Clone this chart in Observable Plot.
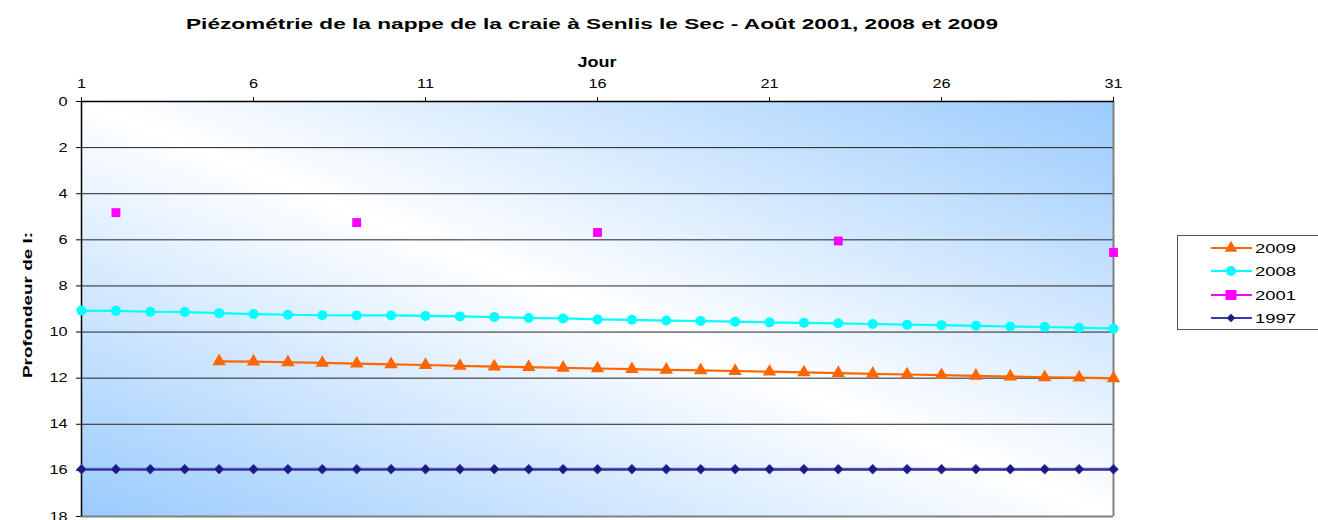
<!DOCTYPE html>
<html>
<head>
<meta charset="utf-8">
<script src="https://cdn.jsdelivr.net/npm/d3@7"></script>
<script src="https://cdn.jsdelivr.net/npm/@observablehq/plot@0.6"></script>
<style>
  html, body { margin: 0; padding: 0; background: #fff; }
  svg { font-family: "Liberation Sans", Arial, sans-serif; }
</style>
</head>
<body>
<div id="chart"></div>
<script>
const title = "Piézométrie de la nappe de la craie à Senlis le Sec - Août 2001, 2008 et 2009";
const xLabel = "Jour";
const yLabel = "Profondeur de l:";
const xTicks = [1, 6, 11, 16, 21, 26, 31];
const yTicks = [0, 2, 4, 6, 8, 10, 12, 14, 16, 18];

const days = d3.range(1, 32);
const days2009 = d3.range(5, 32);
const values2009 = [11.27, 11.28, 11.31, 11.34, 11.37, 11.40, 11.43, 11.47, 11.50, 11.52, 11.55, 11.58, 11.61, 11.64, 11.66, 11.69, 11.72, 11.75, 11.78, 11.81, 11.84, 11.87, 11.90, 11.93, 11.96, 11.98, 12.01];
const values2008 = [9.07, 9.08, 9.12, 9.13, 9.18, 9.22, 9.25, 9.27, 9.28, 9.28, 9.30, 9.32, 9.35, 9.39, 9.41, 9.45, 9.47, 9.50, 9.52, 9.55, 9.58, 9.60, 9.62, 9.65, 9.68, 9.70, 9.73, 9.76, 9.78, 9.81, 9.85];
const days2001 = [2, 9, 16, 23, 31];
const values2001 = [4.82, 5.25, 5.68, 6.05, 6.55];
const values1997 = days.map(() => 15.95);

const series = ["2009", "2008", "2001", "1997"];
const colors = {"2009": "#FF6600", "2008": "#00FFFF", "2001": "#FF00FF", "1997": "#1a1a80"};

const d2009 = days2009.map((d, i) => ({day: d, v: values2009[i]}));
const d2008 = days.map((d, i) => ({day: d, v: values2008[i]}));
const d2001 = days2001.map((d, i) => ({day: d, v: values2001[i]}));
const d1997 = days.map((d, i) => ({day: d, v: values1997[i]}));

const W = 1318, H = 520;
const plot = Plot.plot({
  width: W,
  height: H,
  marginLeft: 81,
  marginRight: 205,
  marginTop: 101,
  marginBottom: 4,
  style: {fontFamily: "Liberation Sans, Arial, sans-serif", fontSize: "12.5px", background: "transparent", overflow: "visible"},
  x: {domain: [1, 31]},
  y: {domain: [0, 18], reverse: true},
  marks: [
    Plot.frame({fill: "url(#bgGrad)", stroke: null}),
    Plot.gridY(yTicks.slice(1, -1), {stroke: "#222", strokeOpacity: 1, strokeWidth: 1}),
    Plot.ruleX([31], {stroke: "#808080", strokeWidth: 2}),
    Plot.ruleY([18], {stroke: "#808080", strokeWidth: 2}),
    Plot.ruleY([0], {stroke: "#000", strokeWidth: 1.5}),
    Plot.ruleX([1], {stroke: "#000", strokeWidth: 1.5}),
    Plot.axisX(xTicks, {anchor: "top", tickSize: 5, tickPadding: 9, label: null, fontSize: 12.5, stroke: "#000", className: "stretch"}),
    Plot.axisY(yTicks, {anchor: "left", tickSize: 5, tickPadding: 9, label: null, fontSize: 12.5, stroke: "#000", className: "stretch"}),
    Plot.line(d1997, {x: "day", y: "v", stroke: "#6a6ac8", strokeWidth: 3.2}),
    Plot.line(d1997, {x: "day", y: "v", stroke: "#1F1F8F", strokeWidth: 1.2}),
    Plot.dot(d1997, {x: "day", y: "v", symbol: "diamond2", r: 4.4, fill: "#1a1a80", stroke: "#4040a8", strokeWidth: 0.8}),
    Plot.line(d2008, {x: "day", y: "v", stroke: "#00FFFF", strokeWidth: 2.2}),
    Plot.dot(d2008, {x: "day", y: "v", symbol: "circle", r: 5, fill: "#00FFFF"}),
    Plot.line(d2009, {x: "day", y: "v", stroke: "#FF6600", strokeWidth: 2.2}),
    Plot.dot(d2009, {x: "day", y: "v", symbol: "triangle", r: 5, fill: "#FF6600"}),
    Plot.dot(d2001, {x: "day", y: "v", symbol: "square", r: 5, fill: "#FF00FF"})
  ]
});

const svg = d3.select(plot);
const defs = svg.insert("defs", ":first-child");
const g = defs.append("linearGradient").attr("id", "bgGrad")
  .attr("x1", "100%").attr("y1", "0%").attr("x2", "0%").attr("y2", "100%");
g.append("stop").attr("offset", "0%").attr("stop-color", "#9ACBFD");
g.append("stop").attr("offset", "50%").attr("stop-color", "#FFFFFF");
g.append("stop").attr("offset", "100%").attr("stop-color", "#9ACBFD");

svg.append("text").text(title)
  .attr("x", 592).attr("y", 29).attr("text-anchor", "middle")
  .attr("font-weight", "bold").attr("font-size", 15).attr("fill", "#000")
  .attr("textLength", 812).attr("lengthAdjust", "spacingAndGlyphs");
svg.append("text").text(xLabel)
  .attr("x", 597).attr("y", 67).attr("text-anchor", "middle")
  .attr("font-weight", "bold").attr("font-size", 14).attr("fill", "#000")
  .attr("textLength", 39).attr("lengthAdjust", "spacingAndGlyphs");
svg.append("text").text(yLabel)
  .attr("transform", "translate(32,305) rotate(-90)").attr("text-anchor", "middle")
  .attr("font-weight", "bold").attr("font-size", 13).attr("fill", "#000")
  .attr("textLength", 146).attr("lengthAdjust", "spacingAndGlyphs");

// legend
const lg = svg.append("g").attr("text-anchor", "start");
lg.append("rect").attr("x", 1177.5).attr("y", 235.5).attr("width", 150).attr("height", 94)
  .attr("fill", "#fff").attr("stroke", "#555").attr("stroke-width", 1);
series.forEach((s, i) => {
  const y = [248, 271, 295, 318][i];
  lg.append("line").attr("x1", 1211).attr("x2", 1252).attr("y1", y).attr("y2", y)
    .attr("stroke", s === "1997" ? "#3a3aa8" : colors[s]).attr("stroke-width", 2);
  const cx = 1231;
  if (s === "2009") lg.append("path").attr("d", d3.symbol(d3.symbolTriangle, 70)()).attr("transform", `translate(${cx},${y})`).attr("fill", colors[s]);
  if (s === "2008") lg.append("circle").attr("cx", cx).attr("cy", y).attr("r", 5).attr("fill", colors[s]);
  if (s === "2001") lg.append("rect").attr("x", cx - 5.5).attr("y", y - 5).attr("width", 11).attr("height", 10).attr("fill", colors[s]);
  if (s === "1997") lg.append("path").attr("d", d3.symbol(d3.symbolDiamond2, 45)()).attr("transform", `translate(${cx},${y})`).attr("fill", "#1a1a80");
  lg.append("text").text(s).attr("x", 1255).attr("y", y + 5).attr("font-size", 13).attr("fill", "#000")
    .attr("text-anchor", "start")
    .attr("textLength", 41).attr("lengthAdjust", "spacingAndGlyphs");
});

document.getElementById("chart").appendChild(plot);

// horizontally stretch tick labels like the reference
svg.selectAll(".stretch text").each(function () {
  const len = this.getComputedTextLength();
  if (len > 0) {
    this.setAttribute("textLength", (len * 1.3).toFixed(2));
    this.setAttribute("lengthAdjust", "spacingAndGlyphs");
  }
});
</script>
</body>
</html>
